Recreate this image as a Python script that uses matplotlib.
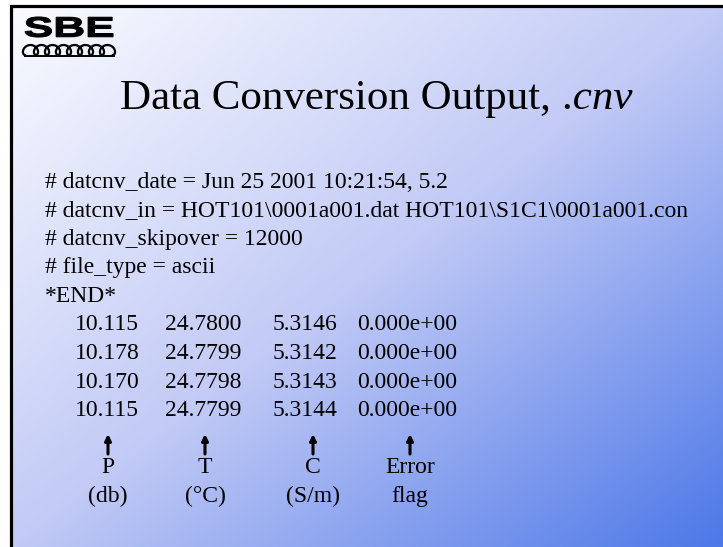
import numpy as np
import matplotlib
matplotlib.use("Agg")
import matplotlib.pyplot as plt
from matplotlib.textpath import TextPath
from matplotlib.patches import PathPatch
from matplotlib.font_manager import FontProperties
from matplotlib.transforms import Affine2D
from matplotlib.colors import LinearSegmentedColormap

# ---------------------------------------------------------
# Slide content
# ---------------------------------------------------------
title_main = "Data Conversion Output,"
title_ext = ".cnv"

header_lines = [
    "# datcnv_date = Jun 25 2001 10:21:54, 5.2",
    "# datcnv_in = HOT101\\0001a001.dat HOT101\\S1C1\\0001a001.con",
    "# datcnv_skipover = 12000",
    "# file_type = ascii",
    "*END*",
]

col_p = ["10.115", "10.178", "10.170", "10.115"]
col_t = ["24.7800", "24.7799", "24.7798", "24.7799"]
col_c = ["5.3146", "5.3142", "5.3143", "5.3144"]
col_flag = ["0.000e+00", "0.000e+00", "0.000e+00", "0.000e+00"]

var_names = ["P", "T", "C", "Error"]
var_units = ["(db)", "(\u00b0C)", "(S/m)", "flag"]

# ---------------------------------------------------------
# Layout (pixels, y grows downward)
# ---------------------------------------------------------
W, H = 723, 547
serif = "Liberation Serif"
body_size = 17
line_step = 28.5
first_base = 188
col_left = [75, 165, 273, 357]
col_mid = [108, 205, 313, 410]

fig = plt.figure(figsize=(W / 100, H / 100), dpi=100)
ax = fig.add_axes([0, 0, 1, 1])
ax.set_xlim(0, W)
ax.set_ylim(H, 0)
ax.axis("off")

# gradient background: white top-left -> blue bottom-right
cmap = LinearSegmentedColormap.from_list(
    "slide", [(0.0, "#fafbff"), (0.5, "#c2caf6"), (1.0, "#4d78e8")])
gx, gy = np.meshgrid(np.linspace(0, 1, 400), np.linspace(0, 1, 300))
ax.imshow((gx + gy) / 2, cmap=cmap, extent=(10.5, W, H, 5.5),
          aspect="auto", interpolation="bilinear", zorder=0)

# frame on the left and top
ax.plot([10.5, 10.5, W], [H, 5.5, 5.5], color="black", lw=2.3,
        solid_joinstyle="miter", zorder=5)

# SBE logo
fp = FontProperties(family="Liberation Sans", weight="bold")
tp = TextPath((0, 0), "SBE", size=20, prop=fp)
bb = tp.get_extents()
sx = 88 / bb.width
sy = 20 / bb.height
tr = Affine2D().translate(-bb.x0, -bb.y0).scale(sx, -sy).translate(25, 37)
ax.add_patch(PathPatch(tr.transform_path(tp), fc="black", ec="black",
                       lw=0.8, zorder=6))
s = np.linspace(0, 8 * 2 * np.pi, 600)
wx = 25 + 1.75 * s - 4.5 * np.sin(s)
wy = 50 + 5.0 * np.cos(s)
ax.plot(wx, wy, color="black", lw=1.6, zorder=6)
ax.plot([25, 114], [55.5, 55.5], color="black", lw=1.4, zorder=6)

# title
t1 = ax.text(120, 109, title_main, fontsize=31, family=serif,
             va="baseline", ha="left", zorder=6)
fig.canvas.draw()
ext = t1.get_window_extent().transformed(ax.transData.inverted())
ax.text(ext.x1 + 11, 109, title_ext, fontsize=31, family=serif,
        style="italic", va="baseline", ha="left", zorder=6)

# header lines
for i, line in enumerate(header_lines):
    ax.text(45, first_base + i * line_step, line, fontsize=body_size,
            family=serif, va="baseline", ha="left", zorder=6)

# data rows
row0 = first_base + len(header_lines) * line_step
for r in range(len(col_p)):
    y = row0 + r * line_step
    for x, col in zip(col_left, [col_p, col_t, col_c, col_flag]):
        ax.text(x, y, col[r], fontsize=body_size, family=serif,
                va="baseline", ha="left", zorder=6)

# arrows and column labels
for x, name, unit in zip(col_mid, var_names, var_units):
    ax.annotate("", xy=(x, 434), xytext=(x, 454),
                arrowprops=dict(arrowstyle="-|>", color="black", lw=2.2,
                                mutation_scale=9, shrinkA=0, shrinkB=0),
                zorder=6)
    ax.text(x, 473, name, fontsize=body_size, family=serif,
            va="baseline", ha="center", zorder=6)
    ax.text(x, 502, unit, fontsize=body_size, family=serif,
            va="baseline", ha="center", zorder=6)

fig.savefig("out.png", dpi=100)
